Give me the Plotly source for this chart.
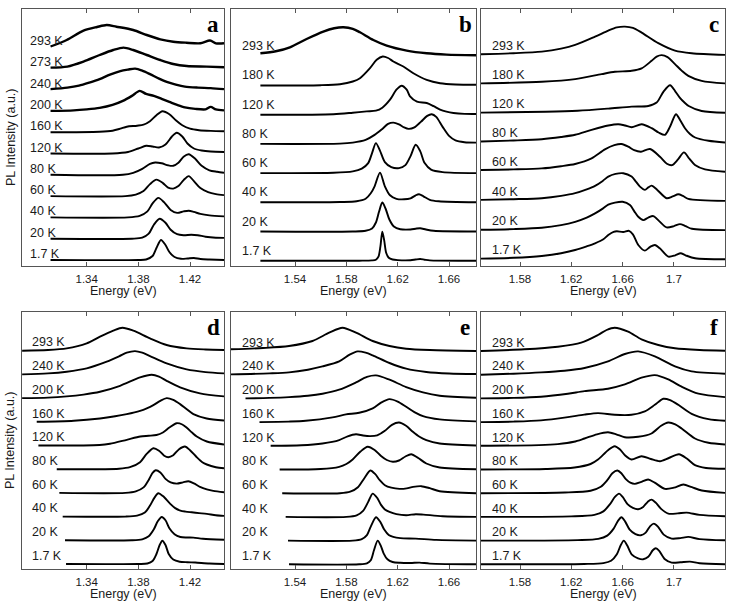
import plotly.graph_objects as go

W, H = 729, 609

# ---------------- DATA (energies in eV, PL intensity in a.u.) ----------------
# Panel a
a_temps = ["293 K", "273 K", "240 K", "200 K", "160 K", "120 K", "80 K", "60 K", "40 K", "20 K", "1.7 K"]
a_energy = [
    [1.312, 1.3245, 1.3375, 1.348, 1.3555, 1.363, 1.376, 1.3865, 1.397, 1.407, 1.417, 1.428, 1.4355, 1.44, 1.4463],
    [1.312, 1.325, 1.3375, 1.35, 1.3605, 1.3685, 1.376, 1.3865, 1.397, 1.407, 1.4175, 1.433, 1.4463],
    [1.312, 1.325, 1.334, 1.342, 1.35, 1.358, 1.366, 1.372, 1.3775, 1.383, 1.389, 1.396, 1.402, 1.409, 1.416, 1.426, 1.436, 1.4463],
    [1.312, 1.33, 1.34, 1.35, 1.36, 1.368, 1.375, 1.381, 1.386, 1.392, 1.398, 1.404, 1.41, 1.416, 1.424, 1.432, 1.436, 1.44, 1.4463],
    [1.312, 1.35, 1.36, 1.366, 1.371, 1.379, 1.384, 1.389, 1.394, 1.3986, 1.404, 1.409, 1.414, 1.42, 1.427, 1.436, 1.4463],
    [1.312, 1.36, 1.372, 1.38, 1.386, 1.391, 1.396, 1.401, 1.406, 1.4097, 1.414, 1.418, 1.423, 1.429, 1.436, 1.4463],
    [1.312, 1.368, 1.376, 1.383, 1.389, 1.393, 1.398, 1.403, 1.407, 1.411, 1.415, 1.419, 1.424, 1.429, 1.435, 1.441, 1.4463],
    [1.312, 1.37, 1.378, 1.384, 1.389, 1.394, 1.399, 1.403, 1.407, 1.411, 1.415, 1.419, 1.423, 1.428, 1.434, 1.44, 1.4463],
    [1.312, 1.372, 1.381, 1.387, 1.391, 1.3955, 1.40, 1.405, 1.41, 1.415, 1.419, 1.423, 1.428, 1.435, 1.4463],
    [1.312, 1.375, 1.383, 1.388, 1.392, 1.3965, 1.401, 1.405, 1.41, 1.415, 1.421, 1.426, 1.432, 1.44, 1.4463],
    [1.312, 1.38, 1.386, 1.391, 1.394, 1.3975, 1.401, 1.404, 1.408, 1.413, 1.418, 1.423, 1.428, 1.435, 1.4463],
]
a_intensity = [
    [0.5, 7, 16.3, 20, 22, 20.3, 17, 12, 7.7, 5.3, 4.3, 3.7, 6.5, 3.7, 3.7],
    [0.7, 1.7, 6.7, 13.3, 18.3, 20.7, 18.3, 13.3, 8.3, 4.3, 2.3, 1.7, 1],
    [0.5, 2, 4, 7, 10.5, 15, 18.5, 20, 21, 19, 15.5, 11, 7.7, 5, 3, 2, 1.5, 0.5],
    [0, 0.5, 1.5, 3, 6, 10, 15, 20, 17, 15, 12, 9, 6, 3.5, 2, 1.5, 4, 1.5, 0.5],
    [0, 0.5, 1.5, 3.5, 5.5, 6.5, 7.5, 11, 17, 21, 18, 12, 7, 3.5, 2, 1.3, 1],
    [0, 0, 1.5, 5, 7.7, 7, 6, 9, 17, 20.7, 17, 10, 5, 3, 2, 1.5],
    [0, 0, 2, 6, 11, 12.3, 11.5, 9.5, 9, 12, 18, 20.5, 16, 9, 4.5, 3, 2],
    [0, 0, 1.5, 5, 12, 16.5, 13, 8.5, 7.5, 10, 16, 20, 15, 8, 4, 2, 1],
    [0, 0, 1.5, 6, 14, 19.5, 15, 7.5, 4.5, 6, 6.7, 5.5, 3.5, 2, 1],
    [0, 0, 1, 5, 14, 20, 16, 9, 4.5, 3.5, 4, 3.5, 2, 1, 0.8],
    [0, 0, 0.5, 4, 12, 20, 15, 8, 3, 1.2, 1.5, 2, 1, 0.5, 0],
]

# Panel b
b_temps = ["293 K", "180 K", "120 K", "80 K", "60 K", "40 K", "20 K", "1.7 K"]
b_energy = [
    [1.513, 1.525, 1.536, 1.549, 1.562, 1.5705, 1.5777, 1.585, 1.5906, 1.601, 1.6114, 1.627, 1.6426, 1.658, 1.681],
    [1.513, 1.56, 1.575, 1.585, 1.5906, 1.5984, 1.6036, 1.6083, 1.6125, 1.6166, 1.6244, 1.6322, 1.6426, 1.653, 1.665, 1.681],
    [1.513, 1.57, 1.585, 1.5958, 1.603, 1.608, 1.614, 1.619, 1.6231, 1.627, 1.6296, 1.635, 1.6426, 1.648, 1.653, 1.658, 1.6634, 1.672, 1.681],
    [1.513, 1.575, 1.585, 1.595, 1.602, 1.608, 1.6125, 1.6166, 1.621, 1.625, 1.6285, 1.633, 1.638, 1.643, 1.6465, 1.65, 1.655, 1.66, 1.665, 1.672, 1.681],
    [1.513, 1.57, 1.585, 1.592, 1.597, 1.600, 1.603, 1.606, 1.61, 1.615, 1.621, 1.626, 1.63, 1.634, 1.6375, 1.641, 1.646, 1.655, 1.681],
    [1.513, 1.575, 1.588, 1.595, 1.599, 1.602, 1.6062, 1.610, 1.614, 1.619, 1.625, 1.63, 1.634, 1.6366, 1.64, 1.645, 1.652, 1.681],
    [1.513, 1.585, 1.595, 1.6, 1.603, 1.6055, 1.608, 1.6105, 1.6135, 1.617, 1.622, 1.63, 1.634, 1.6375, 1.642, 1.648, 1.681],
    [1.513, 1.59, 1.600, 1.603, 1.605, 1.6065, 1.608, 1.6095, 1.611, 1.613, 1.616, 1.62, 1.63, 1.634, 1.6375, 1.641, 1.645, 1.681],
]
b_intensity = [
    [3, 5, 9, 17.3, 24.7, 28, 29, 27.5, 24, 16.3, 10.7, 5.7, 3, 1.7, 1],
    [0, 0.3, 1.3, 4, 7.3, 17.3, 25.7, 29, 27.5, 24, 19, 12.3, 5.7, 2.3, 1, 0.7],
    [0, 0.5, 2, 3.3, 4, 7, 15, 25, 29, 25, 18.3, 13, 11.7, 8.5, 5, 3, 1.7, 0.8, 0.7],
    [0, 0.3, 1.3, 4, 9, 15, 20, 21.3, 19.5, 16.5, 15, 16.5, 22, 28, 29.7, 27, 17, 8, 3.5, 1.7, 1.3],
    [0, 0.3, 1.7, 4.5, 10, 20, 30, 23, 11, 6, 5, 8, 17, 28.3, 22, 10, 3.5, 1, 0],
    [0, 0.3, 1, 3.5, 9, 16, 29.7, 16, 7, 3.5, 3, 4, 7, 8, 6, 2.5, 1, 0],
    [0, 0, 0.7, 3, 9, 20, 29, 23, 12, 5, 2.3, 2, 2.8, 3.3, 2, 0.7, 0],
    [0, 0, 0.3, 1, 4, 14, 29, 20, 8, 3, 1.2, 0.6, 0.5, 1.2, 1.7, 1, 0.3, 0],
]

# Panel c
c_temps = ["293 K", "180 K", "120 K", "80 K", "60 K", "40 K", "20 K", "1.7 K"]
c_energy = [
    [1.5496, 1.575, 1.597, 1.612, 1.623, 1.6385, 1.6488, 1.6555, 1.6618, 1.668, 1.6748, 1.6878, 1.7008, 1.7138, 1.7398],
    [1.5496, 1.597, 1.623, 1.6436, 1.654, 1.667, 1.6748, 1.6826, 1.6865, 1.6904, 1.695, 1.7008, 1.706, 1.7112, 1.7216, 1.7398],
    [1.5496, 1.6, 1.625, 1.6488, 1.667, 1.68, 1.6865, 1.692, 1.697, 1.701, 1.7045, 1.708, 1.7115, 1.7216, 1.7398],
    [1.5496, 1.575, 1.597, 1.612, 1.623, 1.6358, 1.6488, 1.6566, 1.662, 1.667, 1.6748, 1.6826, 1.688, 1.693, 1.697, 1.7016, 1.705, 1.7086, 1.7125, 1.7165, 1.727, 1.7398],
    [1.5496, 1.575, 1.597, 1.612, 1.623, 1.6358, 1.6462, 1.6535, 1.6592, 1.6644, 1.669, 1.6743, 1.6813, 1.6891, 1.6945, 1.6985, 1.703, 1.7078, 1.712, 1.7164, 1.7242, 1.7398],
    [1.5496, 1.575, 1.597, 1.612, 1.623, 1.632, 1.6385, 1.6445, 1.6488, 1.6545, 1.6605, 1.667, 1.6705, 1.6735, 1.6774, 1.68, 1.6826, 1.687, 1.6943, 1.699, 1.7034, 1.707, 1.7112, 1.7398],
    [1.5496, 1.575, 1.597, 1.612, 1.623, 1.632, 1.6385, 1.6445, 1.6488, 1.654, 1.66, 1.6657, 1.669, 1.6722, 1.6761, 1.68, 1.6839, 1.6885, 1.6943, 1.7, 1.7047, 1.709, 1.714, 1.7398],
    [1.5496, 1.575, 1.597, 1.612, 1.623, 1.632, 1.6385, 1.645, 1.6488, 1.653, 1.6555, 1.6605, 1.665, 1.668, 1.6722, 1.6774, 1.6815, 1.6852, 1.689, 1.6956, 1.701, 1.7052, 1.709, 1.7165, 1.7398],
]
c_intensity = [
    [0.7, 1.7, 3.3, 6.3, 10, 18.3, 24.3, 27.5, 28.3, 27, 22.3, 11.7, 4.3, 1.7, 0],
    [0.7, 2.3, 5, 10, 12.3, 13.3, 15.7, 23.3, 27.5, 29, 27, 20, 13.5, 8.3, 3.3, 0.7],
    [0.7, 1.5, 2.5, 4.7, 6.7, 7.3, 10.7, 22, 28, 22, 15.7, 11, 7.3, 2.3, 0.5],
    [1, 2, 3.3, 5.5, 7.7, 12.7, 17, 18.3, 17, 15.3, 18.3, 14.3, 10, 7.7, 16, 28.3, 22, 14.3, 8.5, 5, 1.7, 0],
    [1.7, 2.3, 3.3, 5.5, 7.7, 13.3, 22.3, 26.5, 27.7, 25, 21.5, 20, 22.7, 15, 8, 6.5, 12, 19.3, 13, 6.7, 2.3, 0],
    [1, 1.7, 2.7, 5, 7.7, 11.5, 15, 20, 24.3, 27, 27.7, 24.3, 19, 14.3, 11, 13.5, 15.3, 11, 2.7, 4.5, 6.7, 5, 2, 0],
    [0.3, 1, 2.3, 5, 8.3, 12.5, 16.7, 21.5, 25.5, 27.5, 28.3, 25, 19, 13.3, 10, 12.5, 14, 9, 2.7, 4, 6, 4, 1.3, 0],
    [0.7, 1.5, 3.3, 6, 9.3, 13, 16, 20, 24.3, 27.5, 28, 27.3, 28.5, 25, 14.3, 8.7, 12.5, 14.3, 11, 2.7, 4, 6, 4, 1, 0],
]

# Panel d
d_temps = ["293 K", "240 K", "200 K", "160 K", "120 K", "80 K", "60 K", "40 K", "20 K", "1.7 K"]
d_energy = [
    [1.29, 1.31, 1.3245, 1.34, 1.3503, 1.3606, 1.3676, 1.3761, 1.389, 1.4019, 1.4174, 1.432, 1.4463],
    [1.29, 1.31, 1.3245, 1.34, 1.3555, 1.365, 1.371, 1.3774, 1.383, 1.389, 1.4019, 1.4174, 1.432, 1.4463],
    [1.29, 1.31, 1.3245, 1.3375, 1.3503, 1.3658, 1.3813, 1.3903, 1.396, 1.4019, 1.4123, 1.4277, 1.4463],
    [1.3013, 1.33, 1.3503, 1.362, 1.371, 1.3813, 1.3865, 1.3916, 1.397, 1.4019, 1.407, 1.4123, 1.4175, 1.4226, 1.4329, 1.4463],
    [1.3026, 1.35, 1.358, 1.371, 1.3815, 1.388, 1.394, 1.399, 1.404, 1.4097, 1.414, 1.4175, 1.4215, 1.4252, 1.433, 1.4463],
    [1.3168, 1.365, 1.3735, 1.3813, 1.3864, 1.3916, 1.396, 1.4, 1.4032, 1.407, 1.4115, 1.4161, 1.42, 1.4252, 1.4295, 1.433, 1.44, 1.4463],
    [1.3188, 1.37, 1.378, 1.384, 1.388, 1.391, 1.3934, 1.397, 1.401, 1.405, 1.4097, 1.4145, 1.4187, 1.423, 1.4277, 1.433, 1.438, 1.4463],
    [1.3214, 1.37, 1.379, 1.385, 1.389, 1.3925, 1.3955, 1.399, 1.4045, 1.4085, 1.4125, 1.4165, 1.4213, 1.427, 1.433, 1.44, 1.4463],
    [1.3232, 1.375, 1.383, 1.388, 1.392, 1.395, 1.3981, 1.401, 1.404, 1.408, 1.4125, 1.4175, 1.4226, 1.43, 1.4463],
    [1.324, 1.38, 1.387, 1.391, 1.394, 1.3965, 1.3986, 1.401, 1.4035, 1.407, 1.412, 1.418, 1.424, 1.435, 1.4463],
]
d_intensity = [
    [0, 0.7, 2.3, 7.3, 14, 20, 23, 20, 12.3, 5.7, 2.3, 1.2, 0.7],
    [0, 1, 2.7, 6, 12.7, 18, 21.7, 23.3, 21.7, 18.3, 11, 5, 2.3, 1],
    [0, 0.5, 1.7, 3.5, 6.3, 12.3, 20.7, 23.3, 21.5, 17.3, 10.7, 4.7, 1.7],
    [0, 1, 3.3, 5.5, 7.7, 11, 13.5, 16.7, 21, 23.7, 22, 17.7, 12.5, 7.7, 3.3, 1.3],
    [0, 0.5, 1.7, 5.7, 9, 9.7, 10.5, 13, 18, 22.3, 21, 17.7, 13, 9, 4, 1],
    [0, 0.5, 2, 7, 15.3, 21, 18.5, 13.5, 12, 14, 20, 22.7, 19, 12, 7, 4.7, 2, 1],
    [0, 0, 1.5, 5.5, 13, 20, 22.7, 20.5, 14, 10.5, 9.3, 10.5, 11.7, 9.5, 6, 3.5, 2, 0.7],
    [0, 0, 1, 4, 11, 19, 23.3, 20.5, 13, 8.5, 6, 5, 4.3, 3.5, 2.7, 1.3, 0.7],
    [0, 0, 1, 4, 11, 19, 23.3, 20, 12, 6, 3.3, 2.8, 2.7, 1.5, 0.5],
    [0, 0, 0.5, 3, 10, 19, 23.3, 19, 10, 4.5, 2.3, 1.8, 1.5, 0.5, 0],
]

# Panel e
e_temps = ["293 K", "240 K", "200 K", "160 K", "120 K", "80 K", "60 K", "40 K", "20 K", "1.7 K"]
e_energy = [
    [1.4901, 1.515, 1.5353, 1.5536, 1.5666, 1.577, 1.5875, 1.6005, 1.6136, 1.6266, 1.645, 1.681],
    [1.4901, 1.52, 1.5353, 1.55, 1.5614, 1.5744, 1.5825, 1.5888, 1.595, 1.6005, 1.6136, 1.6266, 1.6423, 1.66, 1.681],
    [1.5014, 1.52, 1.5353, 1.55, 1.5614, 1.5744, 1.5875, 1.596, 1.6031, 1.6136, 1.6266, 1.6397, 1.6527, 1.681],
    [1.5123, 1.535, 1.5483, 1.5692, 1.5797, 1.59, 1.6005, 1.607, 1.6136, 1.62, 1.6266, 1.633, 1.6397, 1.6527, 1.681],
    [1.521, 1.545, 1.5614, 1.5744, 1.581, 1.5875, 1.593, 1.5985, 1.604, 1.61, 1.6155, 1.621, 1.6265, 1.6318, 1.637, 1.6423, 1.6527, 1.681],
    [1.528, 1.56, 1.5744, 1.58, 1.5849, 1.591, 1.5966, 1.602, 1.607, 1.6115, 1.6162, 1.621, 1.626, 1.6305, 1.636, 1.6423, 1.6527, 1.681],
    [1.53, 1.575, 1.583, 1.589, 1.594, 1.5987, 1.6025, 1.606, 1.61, 1.615, 1.6214, 1.627, 1.632, 1.6384, 1.645, 1.6527, 1.681],
    [1.5327, 1.58, 1.588, 1.593, 1.597, 1.6005, 1.604, 1.607, 1.61, 1.6136, 1.619, 1.6266, 1.634, 1.64, 1.655, 1.681],
    [1.5345, 1.585, 1.592, 1.596, 1.599, 1.6031, 1.6065, 1.6095, 1.613, 1.6165, 1.622, 1.634, 1.65, 1.681],
    [1.5353, 1.59, 1.596, 1.599, 1.6015, 1.6044, 1.607, 1.609, 1.612, 1.616, 1.622, 1.63, 1.637, 1.645, 1.681],
]
e_intensity = [
    [1.7, 3, 5, 10, 18.3, 23.3, 18.3, 10, 5, 2.3, 1, 0],
    [0.3, 1.3, 2.3, 5, 8.3, 13.3, 20, 23.3, 22, 19.3, 11.7, 6, 2.7, 1.2, 0.7],
    [0, 0.5, 1.3, 2.7, 4.7, 8.7, 16, 21.5, 23, 18.7, 11.3, 6, 2.7, 0.7],
    [0, 0.5, 1.3, 4.7, 7.7, 9.3, 13.7, 19.5, 23, 20.5, 15.3, 10, 6, 2.7, 0.7],
    [0, 0.5, 2.3, 5.7, 9.5, 11.5, 10.3, 9.7, 10.5, 15, 21, 23.3, 20, 14, 9, 5.7, 2.3, 0.3],
    [0, 0.5, 2.7, 5.5, 10, 18, 22.7, 19.5, 13.5, 9.5, 7.7, 9, 13, 15.3, 11.5, 6, 2, 0.3],
    [0, 0, 1.5, 6, 15, 22.7, 19, 13, 8, 5.5, 4.3, 4.8, 6.3, 7, 5, 2, 0],
    [0, 0, 1.5, 6, 15, 23.3, 19, 12, 7.5, 5, 2.8, 1.7, 2.7, 2.3, 0.7, 0],
    [0, 0, 1.5, 5.5, 14, 23.3, 18.5, 11, 5.5, 3.7, 2.5, 2, 0.7, 0],
    [0, 0, 1, 4, 14, 23.7, 18, 11, 5, 2.3, 1.5, 1.3, 1.7, 0.7, 0],
]

# Panel f
f_temps = ["293 K", "240 K", "200 K", "160 K", "120 K", "80 K", "60 K", "40 K", "20 K", "1.7 K"]
f_energy = [
    [1.5496, 1.5834, 1.6095, 1.6277, 1.6408, 1.6475, 1.6538, 1.6643, 1.6747, 1.6878, 1.7008, 1.72, 1.7398],
    [1.5496, 1.575, 1.5964, 1.6147, 1.6303, 1.6486, 1.6617, 1.6721, 1.6851, 1.7008, 1.7138, 1.7398],
    [1.5496, 1.575, 1.5964, 1.6173, 1.6303, 1.6486, 1.6617, 1.6747, 1.6851, 1.6956, 1.706, 1.7191, 1.7398],
    [1.5496, 1.575, 1.5964, 1.6173, 1.63, 1.6408, 1.6538, 1.6669, 1.6773, 1.6851, 1.6917, 1.697, 1.7034, 1.7138, 1.7269, 1.7398],
    [1.5496, 1.595, 1.6095, 1.622, 1.6303, 1.64, 1.6486, 1.655, 1.6617, 1.6721, 1.6825, 1.69, 1.6956, 1.701, 1.706, 1.7164, 1.7269, 1.7398],
    [1.5496, 1.6, 1.6225, 1.635, 1.6408, 1.6486, 1.6538, 1.658, 1.662, 1.6669, 1.6747, 1.682, 1.6891, 1.696, 1.7039, 1.71, 1.7164, 1.725, 1.7398],
    [1.5496, 1.615, 1.635, 1.643, 1.648, 1.652, 1.6559, 1.659, 1.6625, 1.666, 1.6695, 1.674, 1.6799, 1.685, 1.693, 1.7, 1.7073, 1.714, 1.7217, 1.7398],
    [1.5496, 1.62, 1.638, 1.645, 1.65, 1.654, 1.6572, 1.66, 1.664, 1.668, 1.6721, 1.676, 1.6795, 1.6825, 1.686, 1.69, 1.6956, 1.703, 1.7099, 1.72, 1.7398],
    [1.5496, 1.625, 1.641, 1.648, 1.653, 1.6565, 1.6591, 1.662, 1.6655, 1.67, 1.6742, 1.678, 1.6815, 1.6843, 1.6875, 1.692, 1.6982, 1.705, 1.7112, 1.72, 1.7398],
    [1.5496, 1.63, 1.645, 1.651, 1.6555, 1.6585, 1.6609, 1.6635, 1.667, 1.672, 1.676, 1.68, 1.6835, 1.6859, 1.6885, 1.693, 1.6982, 1.705, 1.7125, 1.72, 1.7398],
]
f_intensity = [
    [0, 1.7, 4.3, 8.3, 16, 21, 23.3, 19.3, 11.7, 6, 2.7, 1, 0.3],
    [0, 1, 2.3, 4, 6.7, 13.3, 20.7, 23.3, 18.3, 8.3, 3.3, 1],
    [0, 0.5, 1.7, 4.7, 7.3, 9.7, 14, 20.7, 23.3, 19, 11.7, 4.7, 1.3],
    [0, 0.5, 1.7, 5, 7.5, 9, 7.3, 7.3, 10.7, 17.3, 23.3, 22, 17.3, 8.3, 3, 1.3],
    [0, 0.7, 1.7, 4, 7.3, 11.5, 13.5, 11.5, 8.5, 9, 12.3, 20, 23.3, 21.5, 17.3, 7.3, 3, 1.3],
    [0, 0.5, 2, 5.5, 10, 19.3, 23.3, 20, 14, 10, 13.3, 10.5, 8.3, 11.5, 15.3, 11, 4.3, 1.5, 0.7],
    [0, 0.7, 2.5, 6.5, 13, 20, 22.7, 20, 14, 10.5, 9.3, 11, 13.7, 10.5, 4.3, 5.5, 8.7, 6, 2.7, 0.3],
    [0, 0.5, 2, 5.5, 12.5, 20, 23.3, 20, 12.5, 9, 7.7, 10, 15, 17.3, 14, 8, 3.3, 3.5, 4.3, 2, 0.7],
    [0, 0.5, 1.7, 5, 12, 20, 23.3, 19, 11, 6.5, 5.3, 8, 14.5, 17, 14, 6, 2, 2.5, 3.7, 1.5, 0.3],
    [0, 0.3, 1.2, 3.5, 10, 19, 23.7, 19, 10, 6, 5, 7.5, 14, 16, 13.5, 5, 1.7, 2, 2.7, 1, 0],
]

x_ticks_low = [1.34, 1.38, 1.42]
x_ticks_mid = [1.54, 1.58, 1.62, 1.66]
x_ticks_high = [1.58, 1.62, 1.66, 1.70]
x_tick_text_high = ["1.58", "1.62", "1.66", "1.7"]

# ---------------- LAYOUT ----------------
FONT = "Liberation Sans, Arial, sans-serif"
INK = "#1a1a1a"
FRAME = "#555555"

panels = [
    # letter, temps, energy, intensity, frame px (x0,x1,y0,y1), xrange, ticks, ticktext, base0, step, label_x, label_dy, thick set
    dict(letter="a", temps=a_temps, E=a_energy, I=a_intensity, box=(22, 224, 9, 266),
         xr=[1.2899, 1.4463], tv=x_ticks_low, tt=None, base0=6, step=21.3, lx=28, ldy=6,
         thick={"293 K", "273 K", "240 K", "200 K"}),
    dict(letter="b", temps=b_temps, E=b_energy, I=b_intensity, box=(231, 476, 9, 266),
         xr=[1.4901, 1.681], tv=x_ticks_mid, tt=None, base0=5.3, step=29.2, lx=240, ldy=10,
         thick={"293 K"}),
    dict(letter="c", temps=c_temps, E=c_energy, I=c_intensity, box=(481, 725, 9, 266),
         xr=[1.5496, 1.7398], tv=x_ticks_high, tt=x_tick_text_high, base0=6.7, step=29.2, lx=490, ldy=9.3,
         thick=set()),
    dict(letter="d", temps=d_temps, E=d_energy, I=d_intensity, box=(22, 224, 311.7, 569.3),
         xr=[1.2899, 1.4463], tv=x_ticks_low, tt=None, base0=5.3, step=23.7, lx=30, ldy=8.3,
         thick=set()),
    dict(letter="e", temps=e_temps, E=e_energy, I=e_intensity, box=(231, 476, 311.7, 569.3),
         xr=[1.4901, 1.681], tv=x_ticks_mid, tt=None, base0=5, step=23.7, lx=240, ldy=8.3,
         thick=set()),
    dict(letter="f", temps=f_temps, E=f_energy, I=f_intensity, box=(481, 725, 311.7, 569.3),
         xr=[1.5496, 1.7398], tv=x_ticks_high, tt=x_tick_text_high, base0=5, step=23.7, lx=490, ldy=8.3,
         thick=set()),
]

fig = go.Figure()
annotations = []
layout_axes = {}

for k, p in enumerate(panels):
    n = k + 1
    xa = "x" if n == 1 else f"x{n}"
    ya = "y" if n == 1 else f"y{n}"
    x0, x1, y0, y1 = p["box"]
    hpx = y1 - y0
    nT = len(p["temps"])
    for i, (t, ev, it) in enumerate(zip(p["temps"], p["E"], p["I"])):
        base = p["base0"] + (nT - 1 - i) * p["step"]
        fig.add_trace(go.Scatter(
            x=ev, y=[base + v for v in it], xaxis=xa, yaxis=ya, mode="lines",
            line=dict(color="black", width=2.4 if t in p["thick"] else 1.9, shape="spline", smoothing=0.8),
            showlegend=False, hoverinfo="skip"))
        annotations.append(dict(
            x=p["lx"] / W, xref="paper", xanchor="left",
            y=base + p["ldy"], yref=ya, yanchor="middle",
            text=t, showarrow=False, font=dict(family=FONT, size=12.5, color=INK)))
    xkey = "xaxis" if n == 1 else f"xaxis{n}"
    ykey = "yaxis" if n == 1 else f"yaxis{n}"
    xaxis = dict(domain=[x0 / W, x1 / W], anchor=ya, range=p["xr"], tickvals=p["tv"],
                 showgrid=False, zeroline=False, showline=True, linecolor=FRAME, linewidth=1,
                 mirror="ticks", ticks="inside", ticklen=4, tickcolor=FRAME,
                 tickfont=dict(family=FONT, size=11.5, color=INK), ticklabelstandoff=2)
    if p["tt"]:
        xaxis["ticktext"] = p["tt"]
    layout_axes[xkey] = xaxis
    layout_axes[ykey] = dict(domain=[1 - y1 / H, 1 - y0 / H], anchor=xa, range=[0, hpx],
                             showgrid=False, zeroline=False, showline=True, linecolor=FRAME,
                             linewidth=1, mirror=True, ticks="", showticklabels=False)
    # x-axis title
    annotations.append(dict(x=(x0 + x1) / 2 / W, xref="paper", y=1 - (y1 + 25) / H, yref="paper",
                            xanchor="center", yanchor="middle", text="Energy (eV)", showarrow=False,
                            font=dict(family=FONT, size=12.5, color=INK)))
    # panel letter
    annotations.append(dict(x=(x1 - 11) / W, xref="paper", y=1 - (y0 + 16) / H, yref="paper",
                            xanchor="center", yanchor="middle", text=f"<b>{p['letter']}</b>", showarrow=False,
                            font=dict(family="Liberation Serif, Times New Roman, serif", size=23, color="black")))
    if p["letter"] in ("a", "d"):
        annotations.append(dict(x=10.5 / W, xref="paper", y=1 - (y0 + y1) / 2 / H, yref="paper",
                                xanchor="center", yanchor="middle", text="PL Intensity (a.u.)", textangle=-90,
                                showarrow=False, font=dict(family=FONT, size=12.5, color=INK)))

fig.update_layout(width=W, height=H, margin=dict(l=0, r=0, t=0, b=0),
                  paper_bgcolor="white", plot_bgcolor="white",
                  annotations=annotations, **layout_axes)

fig.write_html("out.html")
